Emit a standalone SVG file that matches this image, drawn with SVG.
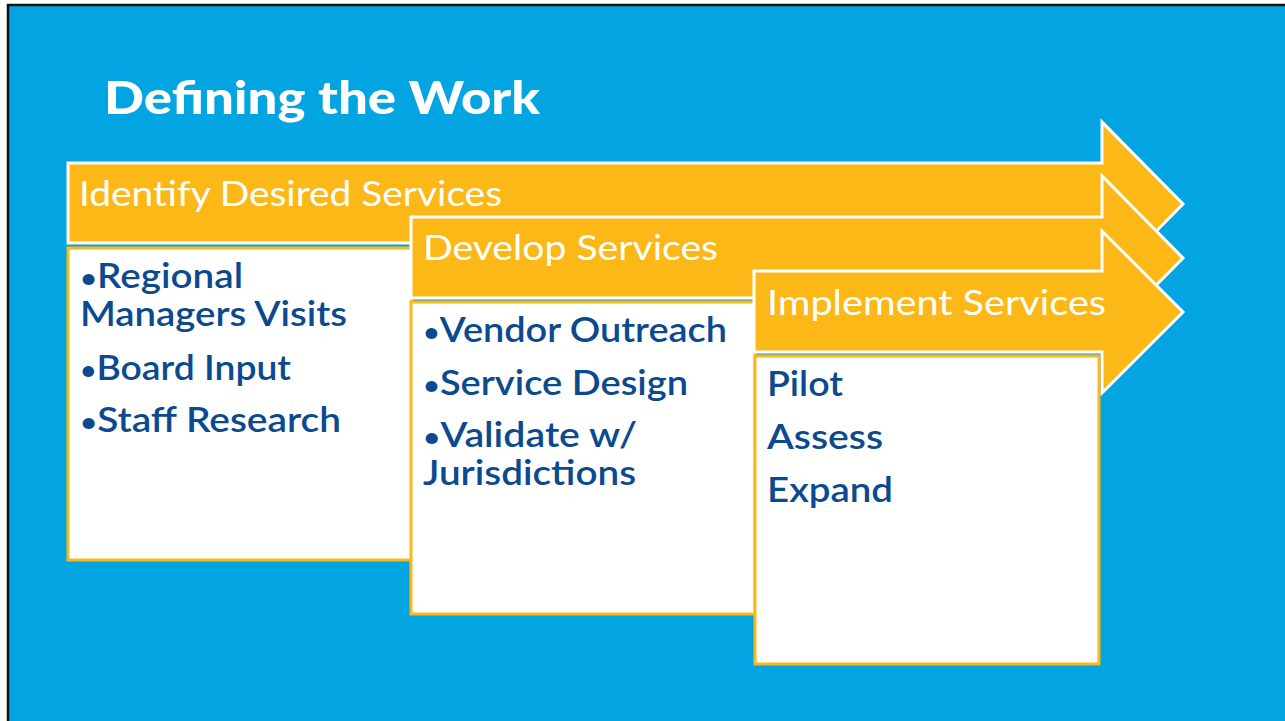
<svg xmlns="http://www.w3.org/2000/svg" width="1285" height="721" viewBox="0 0 1285 721">
  <style>
    .arrow { fill: #fbb817; stroke: #ffffff; stroke-width: 3; stroke-linejoin: miter; }
    .box { fill: #ffffff; stroke: #fbb817; stroke-width: 3; }
    .head { font-family: Lato, "Open Sans", sans-serif; font-size: 34px; fill: #ffffff; font-weight: 400; }
    .item { font-family: Lato, "Open Sans", sans-serif; font-size: 34px; fill: #0b4a8e; font-weight: 600; }
    .b { font-size: 26px; }
    .title { font-family: Lato, "Open Sans", sans-serif; font-size: 46px; fill: #ffffff; font-weight: 900; }
  </style>
  <rect x="0" y="0" width="1285" height="721" fill="#ffffff"/>
  <rect x="8" y="5" width="1290" height="730" fill="#02a5e2" stroke="#111111" stroke-width="2.5"/>
  <text class="title" x="104" y="114" textLength="436" lengthAdjust="spacingAndGlyphs">Defining the Work</text>

  <g id="identify">
    <polygon class="arrow" points="68,163 1102,163 1102,122 1183,204 1102,286 1102,243 68,243"/>
    <text class="head" x="79" y="206" textLength="423" lengthAdjust="spacingAndGlyphs">Identify Desired Services</text>
    <rect class="box" x="68" y="248" width="344" height="312"/>
    <text class="item" x="80" y="288" textLength="163" lengthAdjust="spacingAndGlyphs"><tspan class="b">•</tspan>Regional</text>
    <text class="item" x="80" y="326" textLength="267" lengthAdjust="spacingAndGlyphs">Managers Visits</text>
    <text class="item" x="80" y="380" textLength="211" lengthAdjust="spacingAndGlyphs"><tspan class="b">•</tspan>Board Input</text>
    <text class="item" x="80" y="432" textLength="261" lengthAdjust="spacingAndGlyphs"><tspan class="b">•</tspan>Staff Research</text>
  </g>

  <g id="develop">
    <polygon class="arrow" points="411,217 1102,217 1102,176 1183,258 1102,340 1102,298 411,298"/>
    <text class="head" x="423" y="260" textLength="295" lengthAdjust="spacingAndGlyphs">Develop Services</text>
    <rect class="box" x="411" y="302" width="344" height="312"/>
    <text class="item" x="423" y="342" textLength="304" lengthAdjust="spacingAndGlyphs"><tspan class="b">•</tspan>Vendor Outreach</text>
    <text class="item" x="423" y="395" textLength="265" lengthAdjust="spacingAndGlyphs"><tspan class="b">•</tspan>Service Design</text>
    <text class="item" x="423" y="447" textLength="214" lengthAdjust="spacingAndGlyphs"><tspan class="b">•</tspan>Validate w/</text>
    <text class="item" x="423" y="485" textLength="213" lengthAdjust="spacingAndGlyphs">Jurisdictions</text>
  </g>

  <g id="implement">
    <polygon class="arrow" points="754,271 1102,271 1102,231 1183,312 1102,393 1102,352 754,352"/>
    <text class="head" x="767" y="315" textLength="339" lengthAdjust="spacingAndGlyphs">Implement Services</text>
    <rect class="box" x="755" y="356" width="344" height="308"/>
    <text class="item" x="767" y="396" textLength="76" lengthAdjust="spacingAndGlyphs">Pilot</text>
    <text class="item" x="767" y="449" textLength="116" lengthAdjust="spacingAndGlyphs">Assess</text>
    <text class="item" x="767" y="502" textLength="126" lengthAdjust="spacingAndGlyphs">Expand</text>
  </g>

  <g id="connectors"></g>
</svg>
